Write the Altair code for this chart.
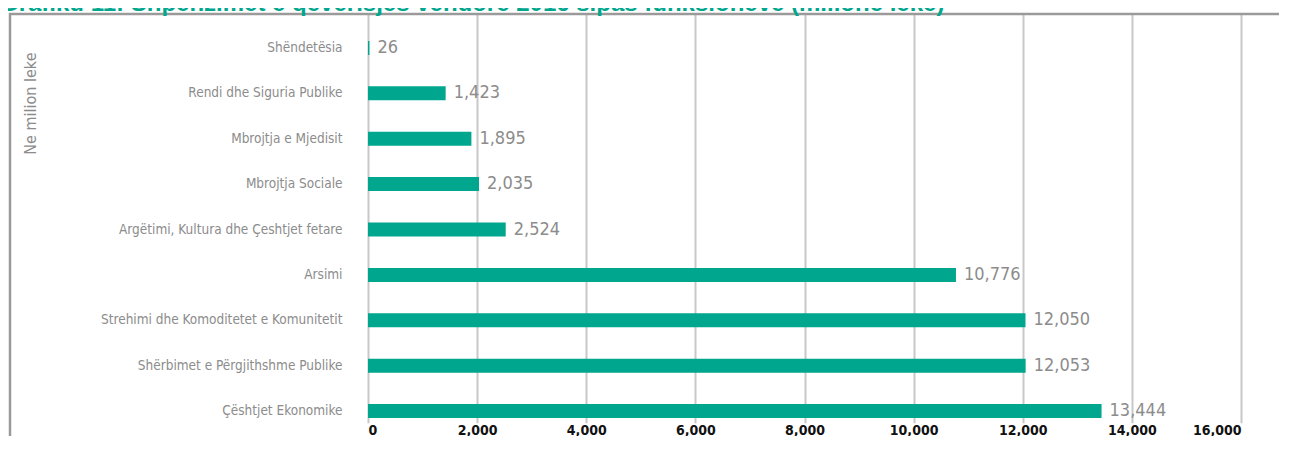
import altair as alt
import pandas as pd

categories = [
    "Shëndetësia",
    "Rendi dhe Siguria Publike",
    "Mbrojtja e Mjedisit",
    "Mbrojtja Sociale",
    "Argëtimi, Kultura dhe Çeshtjet fetare",
    "Arsimi",
    "Strehimi dhe Komoditetet e Komunitetit",
    "Shërbimet e Përgjithshme Publike",
    "Çështjet Ekonomike",
]
values = [26, 1423, 1895, 2035, 2524, 10776, 12050, 12053, 13444]
x_ticks = [0, 2000, 4000, 6000, 8000, 10000, 12000, 14000, 16000]
title_text = "Grafiku 11: Shpenzimet e qeverisjes vendore 2016 sipas funksioneve (milionë lekë)"
axis_title = "Ne milion leke"

df = pd.DataFrame({"cat": categories, "val": values})

TEAL = "#00a68e"
GRAY = "#8c8c8c"
COND = "'Liberation Sans Narrow', 'DejaVu Sans Condensed', 'Roboto', sans-serif"

x_enc = alt.X(
    "val:Q",
    scale=alt.Scale(domain=[0, 16000], nice=False),
    axis=alt.Axis(
        values=x_ticks, format=",.0f", title=None, domain=False, ticks=False,
        grid=True, gridColor="#c8c8c8", gridWidth=2,
        labelFont=COND, labelFontSize=14, labelFontWeight="bold",
        labelColor="#111111", labelPadding=2,
    ),
)
y_enc = alt.Y(
    "cat:N",
    sort=categories,
    scale=alt.Scale(range=[-1.7, 406.7]),
    axis=alt.Axis(
        title=axis_title, domain=False, ticks=False, grid=False,
        labelFont=COND, labelFontSize=13.5, labelColor=GRAY, labelPadding=26,
        labelLimit=400,
        titleFont=COND, titleFontSize=16, titleFontWeight="normal", titleColor=GRAY,
        titleAngle=270, titleAlign="right", titleBaseline="middle",
        titleX=-338, titleY=25,
    ),
)

bars = alt.Chart(df).mark_bar(size=14, color=TEAL).encode(x=x_enc, y=y_enc)

labels = alt.Chart(df).mark_text(
    align="left", baseline="middle", dx=8, fontSize=18, font=COND, color=GRAY
).encode(x="val:Q", y=alt.Y("cat:N", sort=categories), text=alt.Text("val:Q", format=","))

one = pd.DataFrame({"k": [0]})
frame_top = alt.Chart(one).mark_rule(color="#9a9a9a", strokeWidth=2.5).encode(
    x=alt.value(-359), x2=alt.value(1000), y=alt.value(-13)
)
frame_left = alt.Chart(one).mark_rule(color="#9a9a9a", strokeWidth=2.5).encode(
    x=alt.value(-358), y=alt.value(-14), y2=alt.value(600)
)

title = alt.Chart(pd.DataFrame({"t": [title_text]})).mark_text(
    align="left", baseline="alphabetic", fontSize=24, fontWeight="bold",
    font="'Liberation Sans', Arial, sans-serif", color=TEAL
).encode(x=alt.value(-368), y=alt.value(-16), text="t:N")

chart = alt.layer(frame_top, frame_left, bars, labels, title).properties(
    width=873, height=394,
    autosize=alt.AutoSizeParams(type="none"),
    padding={"left": 360, "top": 19, "right": 38, "bottom": 15},
).configure_view(stroke=None)

chart.save("out.html", embed_options={"renderer": "svg", "actions": False})
